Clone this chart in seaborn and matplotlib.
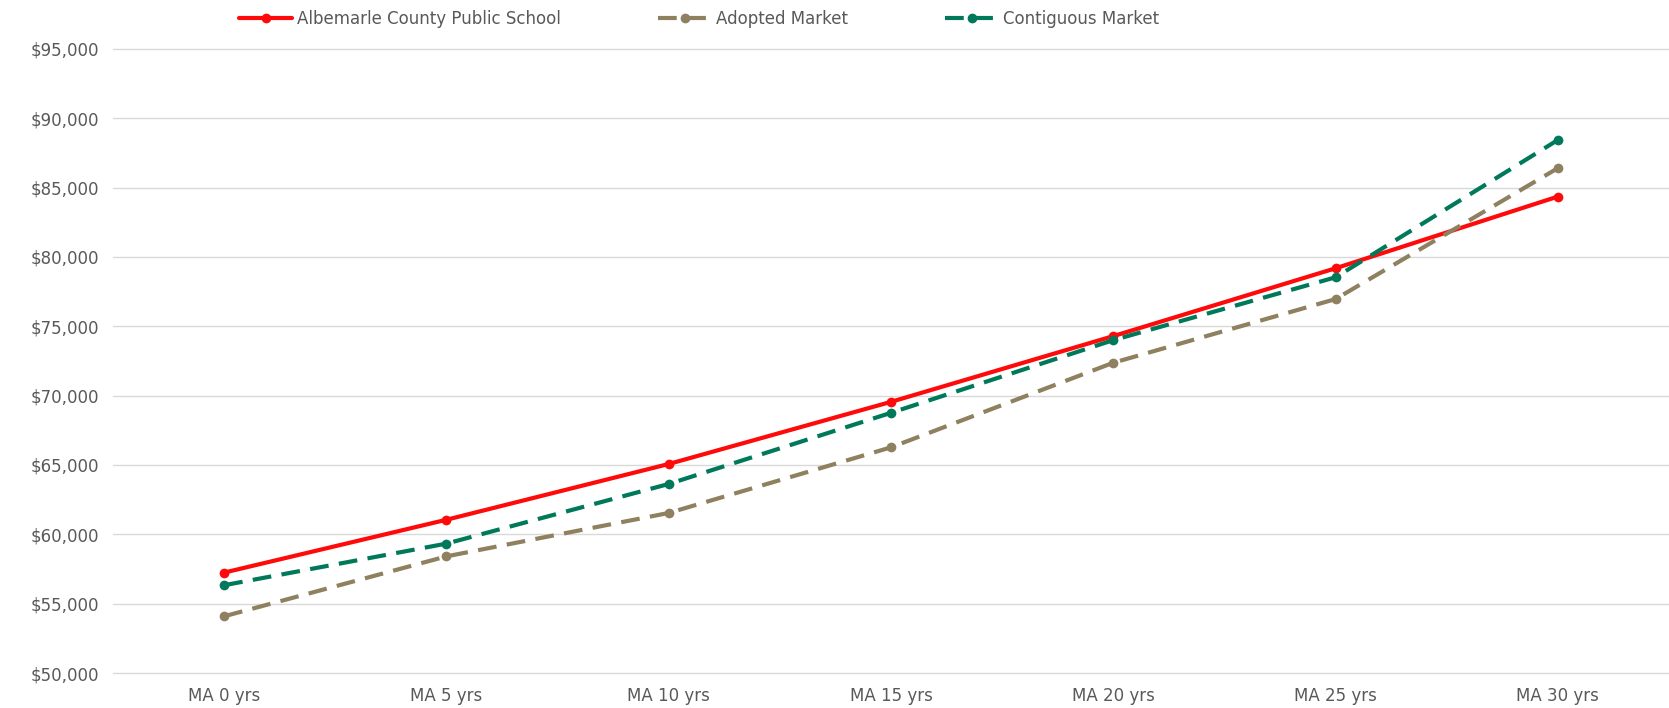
import numpy as np
import pandas as pd
import matplotlib
matplotlib.use("Agg")
import matplotlib.pyplot as plt
import seaborn as sns
from matplotlib.ticker import FuncFormatter

categories = ["MA 0 yrs", "MA 5 yrs", "MA 10 yrs", "MA 15 yrs", "MA 20 yrs", "MA 25 yrs", "MA 30 yrs"]
series_names = ["Albemarle County Public School", "Adopted Market", "Contiguous Market"]
albemarle = [57240, 61050, 65070, 69550, 74290, 79180, 84350]
adopted = [54090, 58410, 61540, 66270, 72370, 76960, 86400]
contiguous = [56330, 59330, 63630, 68760, 74000, 78530, 88430]

colors = {"Albemarle County Public School": "#ff0a0a",
          "Adopted Market": "#8f8060",
          "Contiguous Market": "#00795a"}

df = pd.DataFrame({
    "pos": list(range(len(categories))) * 3,
    "category": categories * 3,
    "series": np.repeat(series_names, len(categories)),
    "salary": albemarle + adopted + contiguous,
})

sns.set_style("white")
plt.rcParams["font.family"] = ["DejaVu Sans"]

fig = plt.figure(figsize=(16.69, 7.08), dpi=100, facecolor="white")
ax = fig.add_axes([0.0677, 0.0494, 0.9323, 0.8816])

sns.lineplot(data=df, x="pos", y="salary", hue="series", style="series",
             hue_order=series_names, style_order=series_names,
             palette=colors, sort=False, linewidth=3,
             dashes={"Albemarle County Public School": "",
                     "Adopted Market": (4.5, 2.5),
                     "Contiguous Market": (4.5, 2.5)},
             markers={"Albemarle County Public School": "o",
                      "Adopted Market": "o",
                      "Contiguous Market": "o"},
             markersize=7, markeredgewidth=0, ax=ax)

ax.set_xlim(-0.5, len(categories) - 0.5)
ax.set_ylim(50000, 95000)
ax.set_yticks(range(50000, 95001, 5000))
ax.yaxis.set_major_formatter(FuncFormatter(lambda v, p: f"${v:,.0f}"))
ax.set_xticks(range(len(categories)))
ax.set_xticklabels(categories)
ax.tick_params(axis="both", length=0, labelsize=12, colors="#595959", pad=10)
ax.grid(axis="y", color="#d9d9d9", linewidth=1)
for gl in ax.get_ygridlines():
    gl.set_clip_on(False)
ax.set_axisbelow(True)
for s in ax.spines.values():
    s.set_visible(False)
ax.set_xlabel("")
ax.set_ylabel("")

handles, labels = ax.get_legend_handles_labels()
ax.legend(handles, labels, ncol=3, frameon=False, loc="center",
          bbox_to_anchor=(0.419, 0.973), bbox_transform=fig.transFigure,
          fontsize=12, labelcolor="#595959", handlelength=3.2,
          columnspacing=5.8, handletextpad=0.3)

plt.savefig("out.png", dpi=100, facecolor="white")
